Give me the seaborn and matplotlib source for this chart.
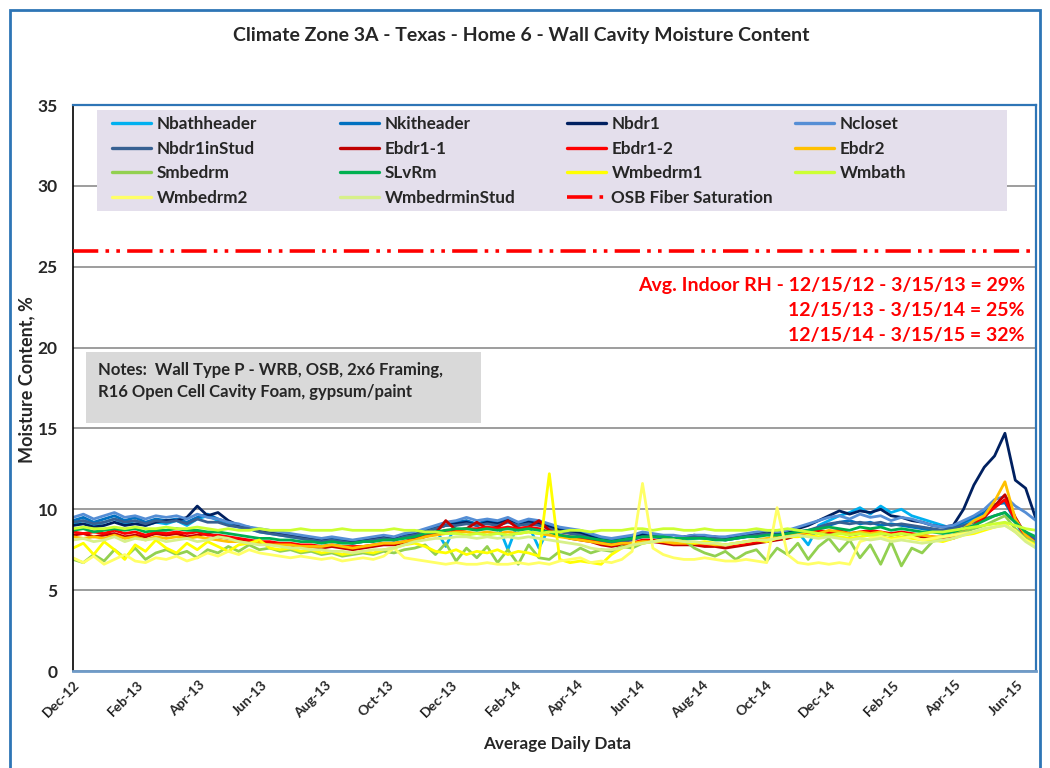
import pandas as pd
import matplotlib
matplotlib.use("Agg")
import matplotlib.pyplot as plt
import matplotlib.dates as mdates
from matplotlib.lines import Line2D
from matplotlib.legend import Legend
from matplotlib.patches import Rectangle
import seaborn as sns

# =========================================================
# WALL CAVITY MOISTURE CONTENT - HOME 6 (CLIMATE ZONE 3A)
# =========================================================

sns.set_style("white")
plt.rcParams["font.family"] = ["Lato", "DejaVu Sans"]
plt.rcParams["font.weight"] = "bold"

# -------------------------------
# DATA (sampled every 10 days from Dec 1 2012)
# -------------------------------
start_date = "2012-12-01"
n_points = 94

nbathheader = [
    9.1, 9.3, 9.0, 9.2, 9.4, 9.1, 9.3, 9.0, 9.2, 9.1,
    9.3, 9.0, 9.4, 9.6, 9.3, 9.1, 8.9, 8.8, 8.6, 8.5,
    8.4, 8.3, 8.2, 8.1, 8.0, 8.1, 8.0, 7.9, 8.0, 8.1,
    8.2, 8.1, 8.3, 8.4, 8.6, 8.8, 7.7, 9.1, 9.2, 9.0,
    9.2, 9.1, 7.5, 9.2, 9.0, 7.6, 8.9, 8.7, 8.6, 8.5,
    8.3, 8.1, 8.0, 8.2, 8.3, 8.5, 8.4, 8.3, 8.2, 8.1,
    8.2, 8.3, 8.2, 8.1, 8.2, 8.3, 8.4, 8.5, 8.3, 8.4,
    8.6, 7.8, 9.0, 9.3, 9.6, 9.8, 10.1, 9.7, 10.2, 9.8,
    10.0, 9.6, 9.4, 9.2, 9.0, 8.8, 9.1, 9.4, 9.8, 10.2,
    10.5, 9.2, 8.2, 7.9,
]
nkitheader = [
    9.3, 9.5, 9.2, 9.4, 9.6, 9.3, 9.5, 9.2, 9.4, 9.3,
    9.4, 9.2, 9.5, 9.7, 9.4, 9.2, 9.0, 8.9, 8.7, 8.6,
    8.5, 8.4, 8.3, 8.2, 8.1, 8.2, 8.1, 8.0, 8.1, 8.2,
    8.3, 8.2, 8.4, 8.5, 8.7, 8.9, 9.1, 9.2, 9.3, 9.1,
    9.3, 9.2, 9.4, 9.1, 9.3, 9.2, 9.0, 8.8, 8.7, 8.6,
    8.4, 8.2, 8.1, 8.2, 8.3, 8.5, 8.4, 8.3, 8.2, 8.2,
    8.3, 8.3, 8.2, 8.2, 8.3, 8.4, 8.5, 8.5, 8.4, 8.5,
    8.6, 8.4, 8.8, 9.0, 9.2, 9.3, 9.1, 9.2, 9.0, 9.1,
    9.0, 8.9, 8.8, 8.7, 8.7, 8.9, 9.2, 9.5, 9.8, 10.3,
    10.4, 9.4, 8.3, 7.9,
]
nbdr1 = [
    9.0, 9.1, 8.9, 9.0, 9.2, 9.0, 9.1, 9.0, 9.2, 9.3,
    9.3, 9.5, 10.2, 9.6, 9.8, 9.3, 9.0, 8.8, 8.7, 8.6,
    8.5, 8.4, 8.3, 8.2, 8.1, 8.1, 8.0, 8.0, 8.1, 8.2,
    8.3, 8.2, 8.3, 8.5, 8.6, 8.8, 9.0, 9.1, 9.2, 9.0,
    9.2, 9.1, 9.3, 9.0, 9.2, 9.1, 8.9, 8.7, 8.6, 8.5,
    8.3, 8.1, 8.0, 8.1, 8.2, 8.4, 8.3, 8.3, 8.2, 8.3,
    8.4, 8.3, 8.3, 8.2, 8.3, 8.4, 8.5, 8.6, 8.5, 8.6,
    8.8, 9.0, 9.3, 9.6, 9.9, 9.7, 9.9, 9.8, 10.0, 9.6,
    9.5, 9.3, 9.2, 9.0, 8.9, 9.0, 10.0, 11.5, 12.6, 13.3,
    14.7, 11.8, 11.3, 9.4,
]
ncloset = [
    9.5, 9.7, 9.4, 9.6, 9.8, 9.5, 9.6, 9.4, 9.6, 9.5,
    9.6, 9.4, 9.7, 9.5, 9.4, 9.2, 9.1, 8.9, 8.8, 8.7,
    8.6, 8.5, 8.4, 8.3, 8.2, 8.3, 8.2, 8.1, 8.2, 8.3,
    8.4, 8.3, 8.5, 8.6, 8.8, 9.0, 9.2, 9.3, 9.5, 9.3,
    9.4, 9.3, 9.5, 9.2, 9.4, 9.3, 9.1, 8.9, 8.8, 8.7,
    8.5, 8.3, 8.2, 8.3, 8.4, 8.6, 8.5, 8.4, 8.4, 8.3,
    8.4, 8.4, 8.3, 8.3, 8.4, 8.5, 8.6, 8.7, 8.6, 8.7,
    8.9, 9.1, 9.3, 9.5, 9.6, 9.4, 9.7, 9.5, 9.6, 9.3,
    9.5, 9.4, 9.2, 9.0, 8.9, 9.0, 9.3, 9.6, 10.0, 10.6,
    10.8, 10.2, 9.8, 9.3,
]
nbdr1instud = [
    9.2, 9.3, 9.1, 9.2, 9.4, 9.2, 9.3, 9.1, 9.3, 9.2,
    9.3, 9.1, 9.4, 9.2, 9.2, 9.0, 8.9, 8.8, 8.6, 8.5,
    8.4, 8.3, 8.2, 8.1, 8.0, 8.1, 8.0, 7.9, 8.0, 8.1,
    8.2, 8.1, 8.3, 8.4, 8.6, 8.8, 9.0, 9.0, 9.1, 9.0,
    9.1, 9.0, 9.2, 9.0, 9.1, 9.0, 8.8, 8.6, 8.5, 8.4,
    8.2, 8.0, 7.9, 8.0, 8.1, 8.3, 8.3, 8.2, 8.1, 8.2,
    8.3, 8.2, 8.2, 8.1, 8.2, 8.3, 8.4, 8.5, 8.4, 8.4,
    8.6, 8.7, 8.9, 9.1, 9.2, 9.1, 9.2, 9.1, 9.2, 9.0,
    9.1, 9.0, 8.9, 8.8, 8.7, 8.8, 9.0, 9.2, 9.4, 9.6,
    9.8, 9.2, 8.6, 8.1,
]
ebdr1_1 = [
    8.4, 8.5, 8.3, 8.4, 8.5, 8.3, 8.4, 8.3, 8.5, 8.4,
    8.5, 8.3, 8.4, 8.5, 8.3, 8.2, 8.1, 8.0, 7.9, 7.9,
    7.8, 7.8, 7.7, 7.7, 7.6, 7.7, 7.6, 7.5, 7.6, 7.7,
    7.8, 7.8, 7.9, 8.1, 8.3, 8.5, 9.3, 8.7, 8.8, 9.2,
    8.8, 8.9, 9.3, 8.8, 8.9, 9.3, 8.7, 8.4, 8.2, 8.1,
    8.0, 7.8, 7.7, 7.8, 7.8, 8.0, 8.0, 7.9, 7.8, 7.8,
    7.8, 7.7, 7.7, 7.6, 7.7, 7.8, 7.9, 8.0, 8.1, 8.2,
    8.4, 8.5, 8.6, 8.5, 8.6, 8.4, 8.5, 8.6, 8.5, 8.4,
    8.5, 8.4, 8.3, 8.2, 8.1, 8.2, 8.5, 8.9, 9.5, 10.2,
    10.9, 9.5, 8.4, 7.9,
]
ebdr1_2 = [
    8.6, 8.5, 8.6, 8.5, 8.7, 8.5, 8.6, 8.4, 8.6, 8.5,
    8.6, 8.5, 8.6, 8.4, 8.4, 8.3, 8.2, 8.1, 8.0, 8.0,
    7.9, 7.9, 7.8, 7.8, 7.7, 7.8, 7.7, 7.7, 7.7, 7.8,
    7.9, 7.9, 8.0, 8.2, 8.4, 8.5, 8.7, 8.7, 8.8, 8.8,
    8.9, 8.8, 8.9, 8.8, 8.9, 8.8, 8.6, 8.4, 8.3, 8.2,
    8.1, 7.9, 7.8, 7.9, 7.9, 8.1, 8.1, 8.0, 7.9, 7.9,
    7.9, 7.8, 7.8, 7.8, 7.8, 7.9, 8.0, 8.1, 8.2, 8.3,
    8.5, 8.6, 8.7, 8.6, 8.7, 8.5, 8.6, 8.7, 8.6, 8.5,
    8.6, 8.5, 8.4, 8.3, 8.2, 8.3, 8.6, 9.0, 9.6, 10.1,
    10.6, 9.3, 8.3, 7.8,
]
ebdr2 = [
    8.3, 8.2, 8.3, 8.2, 8.4, 8.2, 8.3, 8.1, 8.3, 8.2,
    8.3, 8.2, 8.3, 8.2, 8.1, 8.0, 8.0, 7.9, 7.9, 7.8,
    7.8, 7.8, 7.7, 7.7, 7.7, 7.8, 7.7, 7.6, 7.7, 7.8,
    7.9, 7.9, 8.0, 8.1, 8.3, 8.4, 8.5, 8.6, 8.6, 8.5,
    8.6, 8.5, 8.6, 8.5, 8.6, 8.5, 8.4, 8.3, 8.2, 8.1,
    8.0, 7.9, 7.8, 7.9, 7.9, 8.0, 8.0, 8.0, 7.9, 7.9,
    7.9, 7.9, 7.8, 7.8, 7.9, 8.0, 8.1, 8.2, 8.3, 8.4,
    8.5, 8.6, 8.5, 8.7, 8.6, 8.5, 8.6, 8.5, 8.6, 8.4,
    8.5, 8.4, 8.4, 8.3, 8.3, 8.4, 8.8, 9.3, 9.6, 10.5,
    11.7, 9.4, 8.4, 7.9,
]
smbedrm = [
    6.9, 6.7, 7.2, 6.8, 7.5, 7.0, 7.6, 6.9, 7.3, 7.5,
    7.2, 7.4, 7.0, 7.5, 7.3, 7.7, 7.4, 7.8, 7.5, 7.6,
    7.4, 7.5, 7.3, 7.4, 7.2, 7.3, 7.1, 7.2, 7.3, 7.2,
    7.4, 7.3, 7.5, 7.6, 7.8, 7.2, 7.9, 6.8, 7.6, 7.0,
    7.7, 6.7, 7.5, 6.6, 7.8, 7.0, 6.9, 7.4, 7.2, 7.6,
    7.3, 7.5, 7.4, 7.7, 7.6, 7.9, 8.0, 8.1, 8.2, 8.1,
    7.6, 7.3, 7.1, 7.4, 6.9, 7.3, 7.5, 6.8, 7.6, 7.2,
    7.9, 6.9, 7.7, 8.2, 7.4, 8.1, 7.0, 7.8, 6.6, 8.0,
    6.5, 7.6, 7.3, 8.0, 8.3, 8.4, 8.6, 8.8, 9.0, 9.3,
    9.6, 8.8, 8.2, 7.9,
]
slvrm = [
    8.7, 8.8, 8.6, 8.7, 8.8, 8.7, 8.8, 8.6, 8.7, 8.7,
    8.8, 8.7, 8.7, 8.6, 8.6, 8.5, 8.4, 8.3, 8.2, 8.2,
    8.1, 8.1, 8.0, 8.0, 7.9, 8.0, 7.9, 7.9, 8.0, 8.0,
    8.1, 8.1, 8.2, 8.3, 8.5, 8.6, 8.7, 8.8, 8.8, 8.7,
    8.8, 8.7, 8.8, 8.7, 8.8, 8.7, 8.6, 8.4, 8.3, 8.3,
    8.2, 8.1, 8.0, 8.1, 8.2, 8.3, 8.3, 8.3, 8.2, 8.2,
    8.2, 8.2, 8.1, 8.1, 8.2, 8.3, 8.3, 8.4, 8.4, 8.5,
    8.6, 8.7, 8.8, 8.9, 8.8, 8.7, 8.9, 8.8, 8.9, 8.7,
    8.8, 8.7, 8.6, 8.6, 8.5, 8.6, 8.8, 9.0, 9.3, 9.6,
    9.8, 9.2, 8.6, 8.3,
]
wmbedrm1 = [
    7.6, 7.9, 7.2, 8.0, 7.5, 6.9, 7.8, 7.4, 8.1, 7.6,
    7.3, 7.9, 7.5, 8.0, 7.7, 7.4, 7.8, 7.9, 8.1, 7.6,
    7.5, 7.6, 7.4, 7.5, 7.3, 7.4, 7.2, 7.3, 7.4, 7.3,
    7.5, 7.6, 7.8, 7.9, 7.7, 7.4, 7.3, 7.5, 7.2, 7.4,
    7.3, 7.5, 7.2, 7.4, 7.3, 7.1, 12.2, 6.9, 6.7, 6.8,
    6.7, 6.6, 7.2, 7.6, 7.8, 7.9, 8.0, 8.1, 8.1, 8.0,
    7.9, 8.0, 7.9, 7.8, 7.9, 8.0, 8.1, 8.0, 8.2, 8.3,
    8.3, 8.4, 8.3, 8.4, 8.3, 8.2, 8.3, 8.4, 8.3, 8.2,
    8.3, 8.2, 8.1, 8.1, 8.0, 8.2, 8.4, 8.5, 8.7, 8.9,
    9.1, 8.6, 8.1, 7.8,
]
wmbath = [
    8.8, 8.9, 8.8, 8.8, 8.9, 8.8, 8.9, 8.8, 8.8, 8.9,
    8.8, 8.8, 8.9, 8.8, 8.7, 8.8, 8.7, 8.7, 8.8, 8.7,
    8.7, 8.7, 8.8, 8.7, 8.7, 8.7, 8.8, 8.7, 8.7, 8.7,
    8.7, 8.8, 8.7, 8.7, 8.6, 8.6, 8.5, 8.5, 8.4, 8.5,
    8.4, 8.5, 8.4, 8.5, 8.6, 8.5, 8.6, 8.6, 8.7, 8.7,
    8.6, 8.7, 8.7, 8.7, 8.8, 8.8, 8.7, 8.8, 8.8, 8.7,
    8.7, 8.8, 8.7, 8.7, 8.7, 8.7, 8.8, 8.7, 8.7, 8.8,
    8.7, 8.6, 8.5, 8.4, 8.5, 8.4, 8.5, 8.4, 8.5, 8.4,
    8.5, 8.4, 8.5, 8.6, 8.6, 8.7, 8.8, 8.9, 9.0, 9.1,
    9.2, 9.0, 8.8, 8.7,
]
wmbedrm2 = [
    7.0, 6.7, 7.1, 6.6, 6.9, 7.2, 6.8, 6.7, 7.0, 6.9,
    7.1, 6.8, 7.0, 7.3, 7.1, 7.4, 7.2, 7.5, 7.3, 7.2,
    7.1, 7.0, 7.1, 7.0, 6.9, 7.0, 6.8, 6.9, 7.0, 6.9,
    7.1, 7.6, 7.0, 6.9, 6.8, 6.7, 6.6, 6.7, 6.6, 6.6,
    6.7, 6.6, 6.6, 6.7, 6.6, 6.7, 6.6, 6.8, 6.9, 7.0,
    6.7, 6.8, 6.7, 6.9, 7.4, 11.6, 7.6, 7.2, 7.0, 6.9,
    6.9, 7.0, 6.9, 6.8, 6.8, 6.9, 6.8, 6.7, 10.1, 7.2,
    6.7, 6.6, 6.7, 6.6, 6.7, 6.6, 8.0, 8.2, 8.3, 8.1,
    8.2, 8.3, 8.1, 8.2, 8.3, 8.4, 8.5, 8.6, 8.8, 8.9,
    9.0, 8.7, 8.1, 7.7,
]
wmbedrminstud = [
    8.1, 8.2, 8.0, 8.1, 8.3, 8.0, 8.2, 8.1, 8.2, 8.0,
    8.1, 8.2, 8.0, 8.1, 8.3, 8.2, 8.0, 7.9, 7.8, 7.8,
    7.7, 7.6, 7.6, 7.5, 7.5, 7.4, 7.4, 7.3, 7.4, 7.5,
    7.5, 7.6, 7.8, 8.0, 8.1, 8.2, 8.2, 8.3, 8.3, 8.2,
    8.3, 8.2, 8.3, 8.2, 8.3, 8.2, 8.1, 8.0, 7.9, 7.8,
    7.6, 7.5, 7.5, 7.6, 7.8, 7.9, 8.0, 8.1, 8.1, 8.0,
    8.0, 7.9, 7.9, 7.8, 7.9, 8.0, 8.1, 8.1, 8.2, 8.3,
    8.4, 8.3, 8.2, 8.3, 8.2, 8.1, 8.2, 8.1, 8.2, 8.0,
    8.1, 8.0, 7.9, 8.0, 8.1, 8.2, 8.4, 8.6, 8.8, 8.9,
    9.0, 8.6, 8.0, 7.6,
]

osb_fiber_saturation = 26

sensors = [
    "Nbathheader", "Nkitheader", "Nbdr1", "Ncloset",
    "Nbdr1inStud", "Ebdr1-1", "Ebdr1-2", "Ebdr2",
    "Smbedrm", "SLvRm", "Wmbedrm1", "Wmbath",
    "Wmbedrm2", "WmbedrminStud",
]
series = [
    nbathheader, nkitheader, nbdr1, ncloset,
    nbdr1instud, ebdr1_1, ebdr1_2, ebdr2,
    smbedrm, slvrm, wmbedrm1, wmbath,
    wmbedrm2, wmbedrminstud,
]
colors = [
    "#00B0F0", "#0070C0", "#002060", "#558ED5",
    "#376092", "#C00000", "#FF0000", "#FFC000",
    "#92D050", "#00B050", "#FFFF00", "#CCFF33",
    "#FFFF66", "#D7F08A",
]

rh_notes = [
    "Avg. Indoor RH - 12/15/12 - 3/15/13 = 29%",
    "12/15/13 - 3/15/14 = 25%",
    "12/15/14 - 3/15/15 = 32%",
]
wall_notes = "Notes:  Wall Type P - WRB, OSB, 2x6 Framing,\nR16 Open Cell Cavity Foam, gypsum/paint"

# -------------------------------
# LONG FORMAT TABLE
# -------------------------------
dates = pd.date_range(start_date, periods=n_points, freq="10D")
df = pd.concat(
    [pd.DataFrame({"date": dates, "mc": vals, "sensor": name})
     for name, vals in zip(sensors, series)],
    ignore_index=True,
)

# =========================================================
# FIGURE
# =========================================================
W, H = 1050, 768
fig = plt.figure(figsize=(W / 100, H / 100), dpi=100)
fig.patch.set_facecolor("white")
AX_L, AX_R, AX_T, AX_B = 73, 1036, 105, 671
ax = fig.add_axes([AX_L / W, (H - AX_B) / H, (AX_R - AX_L) / W, (AX_B - AX_T) / H])


def ax_x(px):
    return (px - AX_L) / (AX_R - AX_L)


def ax_y(py):
    return (AX_B - py) / (AX_B - AX_T)


sns.lineplot(
    data=df, x="date", y="mc", hue="sensor", hue_order=sensors,
    palette=colors, linewidth=2.0, estimator=None, legend=False, ax=ax,
)

osb_style = (0, (7, 2, 1, 2, 1, 2))
ax.axhline(osb_fiber_saturation, color="#FF0000", lw=2.6, linestyle=osb_style, zorder=5)

# axes styling
ax.set_ylim(0, 35)
ax.set_yticks(range(0, 36, 5))
ax.set_xlim(pd.Timestamp("2012-12-01"), pd.Timestamp("2015-06-19"))
ax.xaxis.set_major_locator(mdates.MonthLocator(bymonth=[2, 4, 6, 8, 10, 12]))
ax.xaxis.set_major_formatter(mdates.DateFormatter("%b-%y"))
ax.grid(axis="y", color="#8C8C8C", lw=1.2)
ax.grid(axis="x", visible=False)
ax.set_axisbelow(True)

for s in ["top", "right"]:
    ax.spines[s].set_color("#2E75B6")
    ax.spines[s].set_linewidth(1.6)
ax.spines["left"].set_color("black")
ax.spines["left"].set_linewidth(1.2)
ax.spines["bottom"].set_color("#6F9BC8")
ax.spines["bottom"].set_linewidth(2.0)

ax.tick_params(axis="x", direction="inout", length=7, color="#8C8C8C",
               labelsize=10, pad=2)
ax.tick_params(axis="y", direction="out", length=3, labelsize=12.5, pad=8)
plt.setp(ax.get_xticklabels(), rotation=45, ha="right", rotation_mode="anchor",
         fontweight="bold")
plt.setp(ax.get_yticklabels(), fontweight="bold")

ax.set_xlabel("")
ax.set_ylabel("")
fig.text(27 / W, 1 - 380 / H, "Moisture Content, %", rotation=90,
         ha="center", va="center", fontsize=13, fontweight="bold")
fig.text(557 / W, 1 - 744 / H, "Average Daily Data",
         ha="center", va="center", fontsize=12.3, fontweight="bold")
fig.text(521 / W, 1 - 36 / H,
         "Climate Zone 3A - Texas - Home 6 - Wall Cavity Moisture Content",
         ha="center", va="center", fontsize=14, fontweight="bold")

# -------------------------------
# LEGEND (4 separate columns on a lavender panel)
# -------------------------------
ax.add_patch(Rectangle((ax_x(97), ax_y(211)), ax_x(1007) - ax_x(97),
                       ax_y(110) - ax_y(211), transform=ax.transAxes,
                       facecolor="#E4DFEC", edgecolor="none", zorder=6))

labels = sensors + ["OSB Fiber Saturation"]
handles = [Line2D([], [], color=c, lw=2.4) for c in colors]
handles.append(Line2D([], [], color="#FF0000", lw=2.6, linestyle=osb_style))
col_x = [112, 340, 567, 795]
for c, px in enumerate(col_x):
    idx = list(range(c, len(labels), 4))
    leg = Legend(
        ax, [handles[i] for i in idx], [labels[i] for i in idx],
        loc="upper left", bbox_to_anchor=(ax_x(px), ax_y(116)),
        bbox_transform=ax.transAxes,
        frameon=False, fontsize=12.3, handlelength=2.3, handletextpad=0.3,
        labelspacing=0.5, borderpad=0, borderaxespad=0,
    )
    leg.set_zorder(7)
    for t in leg.get_texts():
        t.set_fontweight("bold")
    ax.add_artist(leg)

# -------------------------------
# NOTES AND RH ANNOTATIONS
# -------------------------------
ax.add_patch(Rectangle((ax_x(86), ax_y(423)), ax_x(481) - ax_x(86),
                       ax_y(352) - ax_y(423), transform=ax.transAxes,
                       facecolor="#D9D9D9", edgecolor="none", zorder=6))
ax.text(ax_x(98), ax_y(381), wall_notes, transform=ax.transAxes,
        ha="left", va="center", fontsize=12, fontweight="bold",
        linespacing=1.45, zorder=7)

for k, line in enumerate(rh_notes):
    ax.text(ax_x(1025), ax_y(285 + 25.5 * k), line,
            transform=ax.transAxes, ha="right", va="center",
            fontsize=14, fontweight="bold", color="#FF0000", zorder=7)

# chart border
fig.patches.append(Rectangle((10 / W, -0.02), 1030 / W, 1 - 10 / H + 0.02,
                             transform=fig.transFigure, fill=False,
                             edgecolor="#2E75B6", lw=2))

fig.savefig("out.png", dpi=100)
